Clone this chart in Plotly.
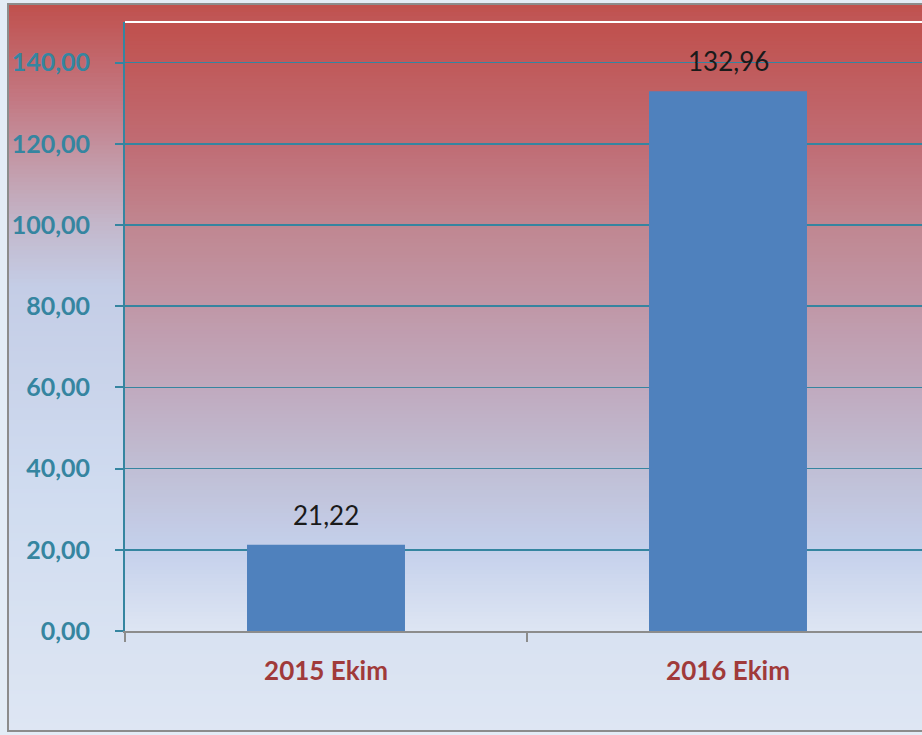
import plotly.graph_objects as go

# ---- data ----
categories = ["2015 Ekim", "2016 Ekim"]
values = [21.22, 132.96]
value_labels = ["21,22", "132,96"]

# ---- geometry helpers (pixel -> paper) ----
W, H = 922, 735
L, R, T, B = 125, 0, 22, 104
PW = W - L - R
PH = H - T - B


def xp(px):
    return (px - L) / PW


def yp(py):
    return (H - B - py) / PH


def interp(stops, t):
    for (t0, c0), (t1, c1) in zip(stops[:-1], stops[1:]):
        if t0 <= t <= t1:
            f = 0 if t1 == t0 else (t - t0) / (t1 - t0)
            c = [round(a + (b - a) * f) for a, b in zip(c0, c1)]
            return "rgb(%d,%d,%d)" % tuple(c)
    c = stops[-1][1]
    return "rgb(%d,%d,%d)" % tuple(c)


def gradient(x0px, x1px, y0px, y1px, stops, n=140):
    out = []
    step = (y1px - y0px) / n
    for i in range(n):
        a = y0px + i * step
        b = a + step + 0.8
        col = interp(stops, (i + 0.5) / n)
        out.append(dict(type="rect", xref="paper", yref="paper",
                        x0=xp(x0px), x1=xp(x1px), y0=yp(a), y1=yp(min(b, y1px)),
                        fillcolor=col, line=dict(width=0), layer="below"))
    return out


chart_stops = [(0.0, (192, 80, 77)), (0.13, (195, 120, 130)), (0.235, (195, 160, 175)),
               (0.31, (195, 185, 205)), (0.39, (196, 205, 230)), (0.68, (208, 220, 240)),
               (1.0, (222, 230, 243))]
plot_stops = [(0.0, (192, 80, 77)), (0.21, (192, 110, 118)), (0.335, (192, 135, 145)),
              (0.47, (192, 152, 168)), (0.6, (192, 170, 190)), (0.73, (192, 190, 212)),
              (0.865, (196, 208, 235)), (1.0, (222, 230, 243))]

shapes = []
shapes += gradient(8, 940, 4, 731, chart_stops, n=180)
shapes += gradient(L, 940, T, H - B, plot_stops, n=160)
# frame
shapes.append(dict(type="rect", xref="paper", yref="paper",
                   x0=xp(8), x1=xp(960), y0=yp(4), y1=yp(731),
                   line=dict(color="#8C8C8C", width=2), fillcolor="rgba(0,0,0,0)", layer="below"))
# white top line of plot area
shapes.append(dict(type="line", xref="paper", yref="paper",
                   x0=0, x1=1.05, y0=1, y1=1,
                   line=dict(color="white", width=2), layer="above"))

fig = go.Figure()
fig.add_trace(go.Bar(x=categories, y=values, marker=dict(color="#4F81BD", line=dict(width=0)),
                     hoverinfo="skip"))

annotations = []
for c, v, t in zip(categories, values, value_labels):
    annotations.append(dict(x=c, y=v, text=t, showarrow=False, yanchor="middle", yshift=30,
                            font=dict(family="Lato", size=26, color="#1A1A1A")))

teal = "#3585A0"
fig.update_layout(
    width=W, height=H,
    margin=dict(l=L, r=R, t=T, b=B, pad=0),
    paper_bgcolor="#E3ECF6",
    plot_bgcolor="rgba(0,0,0,0)",
    bargap=0.607,
    showlegend=False,
    shapes=shapes,
    annotations=annotations,
    separators=", ",
    xaxis=dict(
        type="category",
        range=[-0.5, 1.5 - 7 / 402],
        showgrid=False, zeroline=False,
        showline=True, linecolor="#8C8C8C", linewidth=2,
        ticks="outside", tickson="boundaries", ticklen=9, tickcolor="#8C8C8C", tickwidth=2,
        tickfont=dict(family="Lato", size=26, color="#A03A3A", weight="bold"),
        ticklabelstandoff=16,
    ),
    yaxis=dict(
        range=[0, 150], dtick=20, tick0=0,
        tickformat=".2f",
        showgrid=True, gridcolor=teal, gridwidth=1.5,
        zeroline=False,
        showline=True, linecolor=teal, linewidth=2,
        ticks="outside", ticklen=8, tickcolor=teal, tickwidth=2,
        tickfont=dict(family="Lato", size=25, color=teal, weight="bold"),
        ticklabelstandoff=20,
    ),
)

fig.write_html("out.html", config={"displayModeBar": False, "staticPlot": True},
               post_script="document.body.style.margin='0';document.body.style.overflow='hidden';")
